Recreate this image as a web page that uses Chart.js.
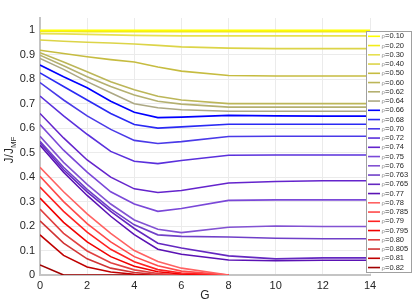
<!DOCTYPE html>
<html><head><meta charset="utf-8">
<script src="https://cdn.jsdelivr.net/npm/chart.js@4.4.0/dist/chart.umd.min.js"></script>
<style>html,body{margin:0;padding:0;background:#fff}</style>
</head><body>
<canvas id="c" width="416" height="307"></canvas>
<script>
// ---- data ----
const G = [0,1,2,3,4,5,6,8,10,12,14];
const yTicks = [0,0.1,0.2,0.3,0.4,0.5,0.6,0.7,0.8,0.9,1];
const rhoLabels = ['0.10','0.20','0.30','0.40','0.50','0.60','0.62','0.64','0.66','0.68','0.70','0.72','0.74','0.75','0.76','0.763','0.765','0.77','0.78','0.785','0.79','0.795','0.80','0.805','0.81','0.82'];
const r010 = [1.0,1.0,1.0,1.0,1.0,1.0,1.0,1.0,1.0,1.0,1.0];
const r020 = [0.995,0.995,0.994,0.994,0.994,0.994,0.994,0.994,0.994,0.994,0.994];
const r030 = [0.986,0.985,0.983,0.981,0.979,0.978,0.977,0.977,0.977,0.977,0.977];
const r040 = [0.96,0.955,0.951,0.948,0.944,0.938,0.932,0.927,0.925,0.925,0.925];
const r050 = [0.918,0.905,0.892,0.88,0.87,0.85,0.833,0.815,0.813,0.813,0.813];
const r060 = [0.908,0.87,0.83,0.79,0.757,0.73,0.715,0.70,0.70,0.70,0.70];
const r062 = [0.898,0.855,0.81,0.77,0.735,0.71,0.698,0.686,0.686,0.686,0.686];
const r064 = [0.885,0.84,0.79,0.745,0.70,0.683,0.675,0.669,0.669,0.669,0.669];
const r066 = [0.858,0.81,0.765,0.71,0.665,0.643,0.645,0.652,0.65,0.649,0.649];
const r068 = [0.826,0.77,0.715,0.66,0.615,0.60,0.605,0.616,0.616,0.616,0.616];
const r070 = [0.786,0.715,0.65,0.595,0.55,0.537,0.545,0.566,0.567,0.567,0.567];
const r072 = [0.731,0.65,0.575,0.505,0.465,0.455,0.468,0.489,0.49,0.49,0.49];
const r074 = [0.66,0.56,0.47,0.40,0.352,0.337,0.345,0.376,0.382,0.385,0.385];
const r075 = [0.615,0.51,0.42,0.34,0.29,0.26,0.272,0.305,0.307,0.307,0.307];
const r076 = [0.567,0.46,0.37,0.29,0.225,0.187,0.173,0.195,0.2,0.198,0.198];
const r0763 = [0.546,0.44,0.35,0.27,0.205,0.164,0.158,0.155,0.15,0.148,0.148];
const r0765 = [0.54,0.43,0.34,0.26,0.19,0.13,0.11,0.078,0.066,0.07,0.07];
const r077 = [0.53,0.42,0.325,0.24,0.165,0.105,0.085,0.061,0.058,0.06,0.06];
const r078 = [0.44,0.34,0.25,0.17,0.1,0.055,0.028,0];
const r0785 = [0.403,0.30,0.21,0.135,0.075,0.038,0.016,0];
const r079 = [0.359,0.26,0.175,0.105,0.054,0.022,0.008,0];
const r0795 = [0.314,0.215,0.135,0.075,0.036,0.013,0.004,0];
const r080 = [0.269,0.17,0.098,0.05,0.021,0.006,0,0];
const r0805 = [0.221,0.13,0.066,0.028,0.01,0.002,0,0];
const r081 = [0.164,0.08,0.033,0.012,0.003,0,0,0];
const r082 = [0.041,0,0,0,0,0,0,0];
const series = [r010,r020,r030,r040,r050,r060,r062,r064,r066,r068,r070,r072,r074,r075,r076,r0763,r0765,r077,r078,r0785,r079,r0795,r080,r0805,r081,r082];
const colors = ['#ffff00','#f2ec18','#e6e050','#dcd448','#c6bc40','#bcb658','#b4b070','#aca884',
  '#0000ff','#2a2af4','#4a3ae8','#5a30dc','#6424cc','#7a48d8','#8252d2','#7040c8','#6428c0','#5a12b4',
  '#ff6262','#ff4a4a','#ff2222','#f00000','#e04040','#d03434','#c00000','#a00000'];

const datasets = series.map((vals,k)=>({
  label: 'ρ=' + rhoLabels[k],
  data: vals.map((v,i)=>({x:G[i], y:v})),
  borderColor: colors[k],
  backgroundColor: colors[k],
  borderWidth: 1.6,
  pointRadius: 0,
  tension: 0,
  fill: false
}));

const decor = {
  id:'decor',
  afterDraw(chart){
    const c = chart.ctx;
    const ca = chart.chartArea;
    c.save();
    c.fillStyle = '#262626';
    c.font = '12px "Liberation Sans", Arial, sans-serif';
    c.textAlign = 'center'; c.textBaseline = 'middle';
    c.fillText('G', (ca.left+ca.right)/2, 296);
    c.translate(10, 150);
    c.rotate(-Math.PI/2);
    c.textAlign = 'left'; c.textBaseline = 'middle';
    c.font = '12px "Liberation Sans", Arial, sans-serif';
    const w1 = c.measureText('J/J').width;
    c.font = '8px "Liberation Sans", Arial, sans-serif';
    const w2 = c.measureText('MF').width;
    const x0 = -(w1+w2)/2;
    c.font = '12px "Liberation Sans", Arial, sans-serif';
    c.fillText('J/J', x0, 0);
    c.font = '8px "Liberation Sans", Arial, sans-serif';
    c.fillText('MF', x0 + w1, 4);
    c.restore();
    c.save();
    const bx = 366, by = 31, bw = 45, bh = 241;
    c.fillStyle = '#ffffff';
    c.fillRect(bx, by, bw, bh);
    c.strokeStyle = '#a0a0a0'; c.lineWidth = 1;
    c.strokeRect(bx+0.5, by+0.5, bw, bh);
    chart.data.datasets.forEach((ds,i)=>{
      const y = 36.3 + i*9.25;
      c.strokeStyle = ds.borderColor; c.lineWidth = 1.6;
      c.beginPath(); c.moveTo(368, y); c.lineTo(380, y); c.stroke();
      c.textBaseline = 'middle'; c.textAlign = 'left';
      c.font = '6px "Liberation Sans", Arial, sans-serif';
      c.fillStyle = '#8a8a8a';
      c.fillText('ρ', 381.5, y+0.5);
      c.font = '7.5px "Liberation Sans", Arial, sans-serif';
      c.fillStyle = '#262626';
      c.fillText(ds.label.slice(1), 385, y);
    });
    c.restore();
  }
};

new Chart(document.getElementById('c'), {
  type: 'line',
  data: { datasets },
  plugins: [decor],
  options: {
    responsive: false,
    animation: false,
    events: [],
    layout: { padding: { left: 0, right: 46, top: 18, bottom: 0 } },
    plugins: { legend: { display: false }, tooltip: { enabled: false } },
    scales: {
      x: {
        type: 'linear', min: 0, max: 14,
        afterFit: s => { s.height = 32; },
        ticks: { stepSize: 2, color: '#262626', font: { size: 11, family: '"Liberation Sans", Arial, sans-serif' }, padding: 4, maxRotation: 0 },
        grid: { color: '#ebebeb', drawTicks: false, lineWidth: 1 },
        border: { color: '#c4c4c4', width: 2 }
      },
      y: {
        type: 'linear', min: 0, max: 1.05,
        afterFit: s => { s.width = 40; },
        afterBuildTicks: s => { s.ticks = yTicks.map(v => ({ value: v })); },
        ticks: { color: '#262626', font: { size: 11, family: '"Liberation Sans", Arial, sans-serif' }, padding: 5,
          callback: v => String(Number(Number(v).toFixed(2))) },
        grid: { color: '#ebebeb', drawTicks: false, lineWidth: 1 },
        border: { color: '#c4c4c4', width: 2 }
      }
    }
  }
});
</script>
</body></html>
